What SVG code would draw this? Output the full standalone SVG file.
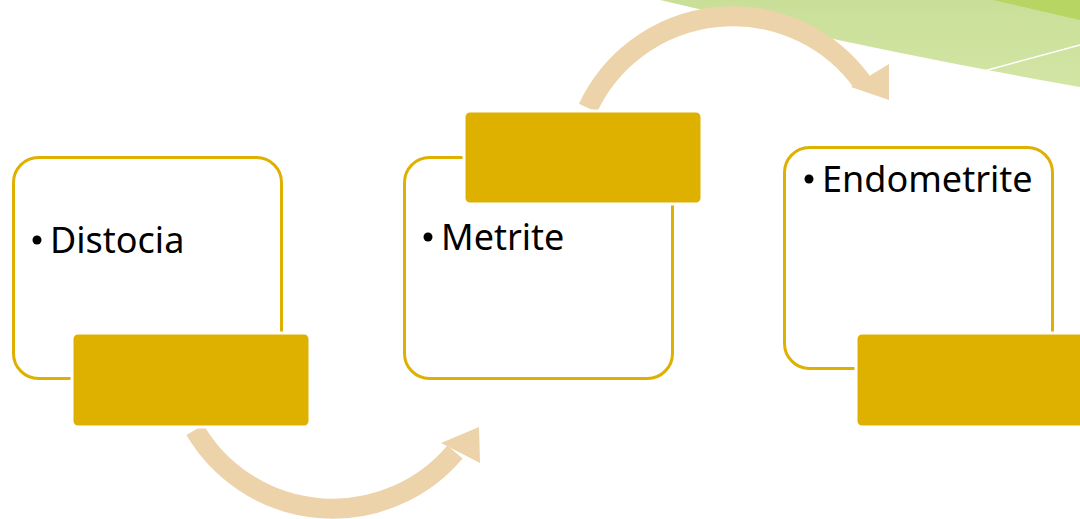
<svg xmlns="http://www.w3.org/2000/svg" width="1080" height="519" viewBox="0 0 1080 519">
<style>
.frame{fill:#fff;stroke:#DEB000;stroke-width:3}
.tab{fill:#DEB000;stroke:#fff;stroke-width:3}
.arc{fill:none;stroke:#EDD3AA;stroke-width:20}
.head{fill:#EDD3AA}
.lbl{font-family:"Noto Sans","Liberation Sans",sans-serif;font-size:36px;fill:#000}
</style>
<defs>
<linearGradient id="g1" x1="0" y1="0" x2="0" y2="1">
<stop offset="0" stop-color="#C9DF98"/>
<stop offset="1" stop-color="#D3E5A5"/>
</linearGradient>
</defs>
<g id="background">
<path d="M660,0 Q870,50 1080,87 L1080,0 Z" fill="url(#g1)"/>
<path d="M993,0 L1080,20 L1080,0 Z" fill="#B6D562"/>
<path d="M984,71 L1080,45" stroke="#fff" stroke-width="1.5" fill="none"/>
</g>
<g id="connectors">
<path class="arc" d="M195,430 A160,160 0 0 0 455,452"/>
<polygon class="head" points="479,427 441,443 480,463"/>
<path class="arc" d="M588,108 A160,160 0 0 1 862,82"/>
<polygon class="head" points="889,100 851,87 889,64"/>
</g>
<g id="node1">
<rect class="frame" x="13.5" y="157.5" width="268" height="221" rx="25"/>
<rect class="tab" x="72" y="333" width="238" height="94" rx="6"/>
<circle cx="37" cy="240" r="4.5"/>
<text class="lbl" x="50" y="253">Distocia</text>
</g>
<g id="node2">
<rect class="frame" x="404.5" y="157.5" width="268" height="221" rx="25"/>
<rect class="tab" x="464" y="111" width="238" height="93" rx="6"/>
<circle cx="428" cy="237" r="4.5"/>
<text class="lbl" x="441" y="250">Metrite</text>
</g>
<g id="node3">
<rect class="frame" x="784.5" y="147.5" width="268" height="221" rx="25"/>
<rect class="tab" x="856" y="333" width="238" height="94" rx="6"/>
<circle cx="809" cy="179" r="4.5"/>
<text class="lbl" x="822" y="192">Endometrite</text>
</g>
</svg>
